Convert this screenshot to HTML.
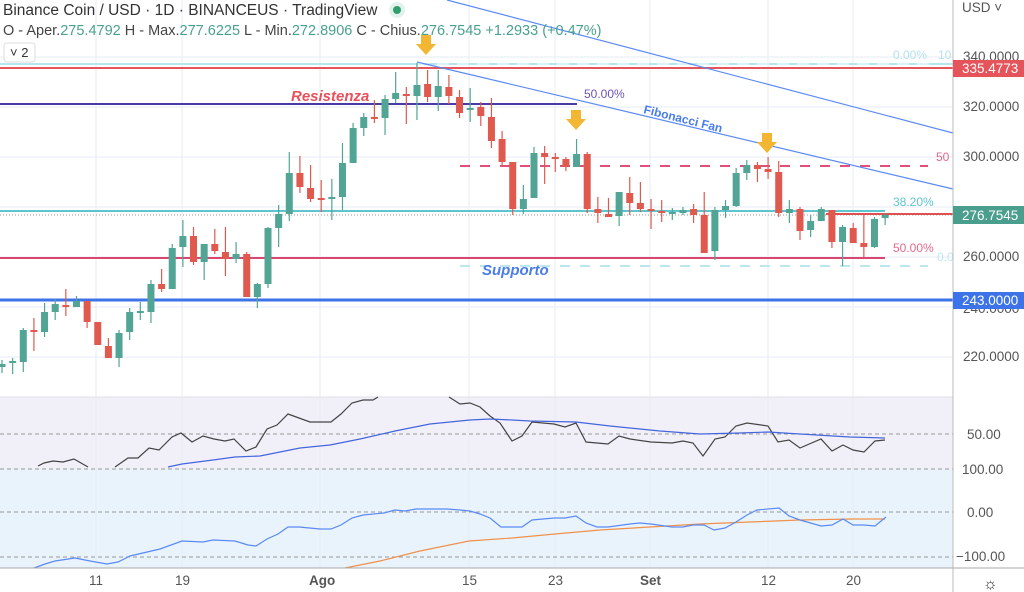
<!DOCTYPE html>
<html><head><meta charset="utf-8"><style>
html,body{margin:0;padding:0;background:#fff;width:1024px;height:592px;overflow:hidden;font-family:"Liberation Sans",sans-serif;}
svg{position:absolute;left:0;top:0}
</style></head><body>
<svg id="s" width="1024" height="592" xmlns="http://www.w3.org/2000/svg" font-family="Liberation Sans, sans-serif">
<rect x="0" y="397" width="953" height="72" fill="#f1eff8"/>
<rect x="0" y="469" width="953" height="99" fill="#e8f3fc"/>
<g stroke="#e6edf4" stroke-width="1">
<line x1="96" y1="0" x2="96" y2="568"/><line x1="182" y1="0" x2="182" y2="568"/><line x1="320" y1="0" x2="320" y2="568"/><line x1="469" y1="0" x2="469" y2="568"/><line x1="555" y1="0" x2="555" y2="568"/><line x1="650" y1="0" x2="650" y2="568"/><line x1="768" y1="0" x2="768" y2="568"/><line x1="853" y1="0" x2="853" y2="568"/>
<line x1="0" y1="57" x2="953" y2="57"/><line x1="0" y1="107" x2="953" y2="107"/><line x1="0" y1="157" x2="953" y2="157"/><line x1="0" y1="207" x2="953" y2="207"/><line x1="0" y1="257" x2="953" y2="257"/><line x1="0" y1="307" x2="953" y2="307"/><line x1="0" y1="357" x2="953" y2="357"/>
</g>
<g stroke="#999" stroke-width="1" stroke-dasharray="4,3">
<line x1="0" y1="434" x2="953" y2="434"/><line x1="0" y1="469" x2="953" y2="469"/><line x1="0" y1="512" x2="953" y2="512"/><line x1="0" y1="557" x2="953" y2="557"/>
</g>
<line x1="0" y1="397" x2="953" y2="397" stroke="#e0e0e8"/>
<line x1="0" y1="64" x2="953" y2="64" stroke="#b8e6ee" stroke-width="2"/>
<line x1="417" y1="64" x2="930" y2="64" stroke="#fff" stroke-width="1" stroke-dasharray="12,8"/>
<line x1="0" y1="68" x2="953" y2="68" stroke="#e5545a" stroke-width="2"/>
<line x1="0" y1="104" x2="577" y2="104" stroke="#4a3aa8" stroke-width="2"/>
<line x1="460" y1="166" x2="928" y2="166" stroke="#e24f7a" stroke-width="2" stroke-dasharray="10,10"/>
<line x1="0" y1="211" x2="885" y2="211" stroke="#5ec5cf" stroke-width="2"/>
<line x1="0" y1="215" x2="953" y2="215" stroke="#999" stroke-width="1" stroke-dasharray="1,2"/>
<line x1="826" y1="214" x2="953" y2="214" stroke="#e05050" stroke-width="2"/>
<line x1="0" y1="258" x2="885" y2="258" stroke="#d9466f" stroke-width="2"/>
<line x1="460" y1="266" x2="928" y2="266" stroke="#bde6ee" stroke-width="2" stroke-dasharray="10,10"/>
<line x1="0" y1="300" x2="953" y2="300" stroke="#3d73e8" stroke-width="3"/>
<line x1="417" y1="62" x2="953" y2="189" stroke="#5b8af5" stroke-width="1.2"/>
<line x1="447" y1="0" x2="953" y2="133" stroke="#5b8af5" stroke-width="1.2"/>
<g id="c"></g>
<g fill="#f2b632">
<rect x="421" y="35" width="10" height="9"/><polygon points="416,44 436,44 426,55"/>
<rect x="571" y="110" width="10" height="9"/><polygon points="566,119 586,119 576,130"/>
<rect x="762" y="133" width="10" height="9"/><polygon points="757,142 777,142 767,153"/>
</g>
<text x="291" y="101" font-size="15" font-weight="bold" font-style="italic" fill="#e8505b">Resistenza</text>
<text x="482" y="275" font-size="15" font-weight="bold" font-style="italic" fill="#4a7de8">Supporto</text>
<text x="0" y="0" font-size="12" font-weight="bold" fill="#4a7de8" transform="translate(643,113) rotate(14)">Fibonacci Fan</text>
<text x="584" y="98" font-size="12" fill="#6a55b8">50.00%</text>
<text x="893" y="59" font-size="12" fill="#b5e2ea">0.00%</text>
<text x="938" y="59" font-size="12" fill="#b5e2ea">10</text>
<text x="936" y="161" font-size="12" fill="#e26a8a">50</text>
<text x="893" y="206" font-size="12" fill="#5ec5cf">38.20%</text>
<text x="893" y="252" font-size="12" fill="#e26a8a">50.00%</text>
<text x="937" y="261" font-size="12" fill="#bde6ee">0.0</text>
<polyline fill="none" stroke="#444" stroke-width="1.2" points="38,466 44,463 53,461 63,462 74,459 88,467"/>
<polyline fill="none" stroke="#444" stroke-width="1.2" points="115,467 128,458 138,458 149,448 159,450 172,437 181,433 192,442 203,436 214,439 225,441 234,439 246,451 256,447 267,429 277,425 288,414 299,418 310,422 331,422 341,414 352,403 363,400 373,400 378,397"/>
<polyline fill="none" stroke="#444" stroke-width="1.2" points="449,397 460,404 470,403 480,407 490,416 500,423 512,441 522,436 532,422 554,424 565,427 576,423 586,442 608,444 619,436 630,439 651,442 672,443 683,441 693,443 703,456 715,439 725,437 736,426 747,423 768,426 778,442 789,440 800,448 821,439 832,451 843,445 853,450 864,452 875,441 885,440"/>
<polyline fill="none" stroke="#4466dd" stroke-width="1.2" points="168,467 182,464 213,460 235,457 260,456 280,452 300,448 330,445 360,439 395,431 430,424 470,420 490,419 512,420 530,421 576,422 610,426 660,431 700,434 740,433 768,432 800,434 850,437 885,438"/>
<polyline fill="none" stroke="#f0914a" stroke-width="1.2" points="345,568 380,561 420,551 469,541 512,538 555,534 600,530 650,527 700,524 750,522 800,520 853,519 885,519"/>
<polyline fill="none" stroke="#5b8af5" stroke-width="1.2" points="34,568 45,564 55,561 75,558 90,561 107,564 118,562 130,556 160,549 182,541 203,542 213,540 235,541 248,545 256,546 267,539 278,534 288,527 299,527 320,529 331,529 341,525 352,518 363,515 384,513 395,510 405,511 416,509 437,509 447,509 460,510 470,511 480,514 490,518 501,527 512,527 522,527 532,520 554,518 565,518 576,516 586,523 597,527 608,527 630,524 640,523 651,524 672,527 683,527 693,525 704,525 714,530 725,528 736,522 747,515 757,510 779,508 789,516 800,520 821,526 832,525 843,519 853,525 864,525 875,526 886,517"/>
<line x1="953" y1="0" x2="953" y2="592" stroke="#bbb"/>
<line x1="0" y1="568" x2="1024" y2="568" stroke="#aaa"/>
<g font-size="13.5" fill="#555">
<text x="962" y="12">USD ˅</text>
<text x="963" y="61">340.0000</text><text x="963" y="111">320.0000</text><text x="963" y="161">300.0000</text><text x="963" y="261">260.0000</text><text x="963" y="313">240.0000</text><text x="963" y="361">220.0000</text>
<text x="967" y="439">50.00</text><text x="962" y="474">100.00</text><text x="967" y="517">0.00</text><text x="956" y="561">−100.00</text>
<text x="89" y="585">11</text><text x="175" y="585">19</text><text x="309" y="585" font-weight="bold">Ago</text><text x="462" y="585">15</text><text x="548" y="585">23</text><text x="640" y="585" font-weight="bold">Set</text><text x="761" y="585">12</text><text x="846" y="585">20</text>
</g>
<rect x="953" y="60" width="71" height="17" fill="#e5545a"/><text x="962" y="73" font-size="13.5" fill="#fff">335.4773</text>
<rect x="953" y="206" width="71" height="18" fill="#4a9e8e"/><text x="962" y="220" font-size="13.5" fill="#fff">276.7545</text>
<rect x="953" y="292" width="71" height="17" fill="#3d73e8"/><text x="962" y="305" font-size="13.5" fill="#fff">243.0000</text>
<text x="983" y="589" font-size="16" fill="#333">☼</text>
<text x="3" y="15" font-size="15.5" fill="#333">Binance Coin / USD · 1D · BINANCEUS · TradingView</text>
<circle cx="397" cy="10" r="8" fill="#e3f1ec"/><circle cx="397" cy="10" r="4" fill="#2e9e6e"/>
<text x="3" y="35" font-size="14.5" fill="#444">O - Aper.<tspan fill="#4aa08f">275.4792</tspan> H - Max.<tspan fill="#4aa08f">277.6225</tspan> L - Min.<tspan fill="#4aa08f">272.8906</tspan> C - Chius.<tspan fill="#4aa08f">276.7545 +1.2933 (+0.47%)</tspan></text>
<rect x="4" y="43" width="31" height="19" rx="3" fill="#fff" stroke="#ddd"/>
<text x="10" y="57" font-size="13" fill="#333">˅ 2</text>
</svg>
<script>
var d=[[364,367,360,373,1],[361,363,358,374,1],[330,362,328,372,1],[330,332,318,351,0],[312,332,303,337,1],[304,312,299,320,1],[305,307,289,316,0],[301,307,296,307,1],[301,322,301,328,0],[322,345,322,345,0],[346,358,338,358,0],[333,358,330,367,1],[312,332,308,340,1],[311,313,302,320,1],[284,312,280,323,1],[284,289,269,292,0],[248,289,244,289,1],[236,247,220,267,1],[236,262,227,265,0],[244,262,244,280,1],[244,251,229,254,0],[252,259,227,276,0],[254,259,242,263,1],[254,297,252,297,0],[284,297,283,308,1],[228,284,227,288,1],[214,228,205,247,1],[173,214,152,221,1],[173,187,156,193,0],[188,199,165,202,0],[198,200,180,212,0],[197,199,179,220,1],[163,197,143,210,1],[128,163,123,163,1],[117,128,113,136,1],[117,119,100,123,0],[99,118,95,135,1],[93,99,72,103,1],[94,96,87,124,0],[85,96,63,120,1],[84,97,70,102,0],[86,97,70,111,1],[87,96,75,104,0],[97,113,90,118,0],[108,110,88,122,1],[107,116,102,126,0],[117,141,98,148,0],[139,162,131,166,0],[162,209,162,215,0],[199,209,185,214,1],[153,198,147,198,1],[153,157,146,184,0],[157,159,153,172,0],[159,167,157,171,0],[154,167,139,167,1],[154,209,152,213,0],[209,213,197,223,0],[214,217,198,217,0],[192,216,192,226,1],[193,203,177,215,0],[203,209,182,212,0],[209,211,199,229,0],[211,213,200,222,0],[212,214,208,220,1],[210,213,207,215,1],[209,215,204,223,0],[215,253,192,253,0],[210,251,207,260,1],[206,210,200,218,1],[173,206,168,207,1],[165,173,160,180,1],[165,169,162,182,0],[169,172,157,179,0],[172,213,161,217,0],[209,213,200,223,1],[209,231,207,240,0],[221,230,215,237,1],[209,221,207,221,1],[210,242,210,248,0],[227,242,225,266,1],[228,243,223,243,0],[243,247,215,257,0],[219,247,217,248,1],[215,218,213,225,1]];
var h='';
for(var i=0;i<d.length;i++){var x=2+i*10.64,c=d[i],col=c[4]?'#52a494':'#e0594f';
h+='<line x1="'+x+'" y1="'+c[2]+'" x2="'+x+'" y2="'+c[3]+'" stroke="'+col+'" stroke-width="1.2"/>';
h+='<rect x="'+(x-3.5)+'" y="'+c[0]+'" width="7" height="'+Math.max(2,c[1]-c[0])+'" fill="'+col+'"/>';}
document.getElementById('c').innerHTML=h;
</script>
</body></html>
